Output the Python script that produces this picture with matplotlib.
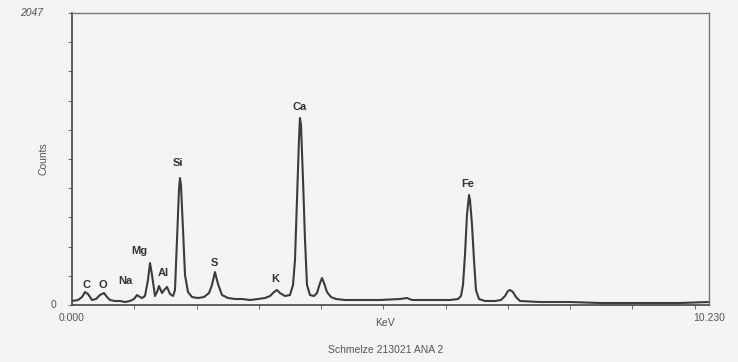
import matplotlib
matplotlib.use("Agg")
import matplotlib.pyplot as plt
import numpy as np

# spectrum: energy (keV) and counts
kev = [0.000, 0.096, 0.161, 0.209, 0.257, 0.321, 0.385, 0.450, 0.514, 0.562,
       0.610, 0.691, 0.771, 0.851, 0.931, 0.996, 1.044, 1.092, 1.124, 1.172,
       1.220, 1.253, 1.285, 1.333, 1.365, 1.397, 1.445, 1.494, 1.526, 1.574,
       1.622, 1.654, 1.686, 1.718, 1.734, 1.750, 1.783, 1.815, 1.863, 1.927,
       2.023, 2.120, 2.200, 2.248, 2.296, 2.345, 2.409, 2.505, 2.618, 2.730,
       2.859, 2.987, 3.099, 3.180, 3.244, 3.292, 3.340, 3.421, 3.501, 3.549,
       3.581, 3.613, 3.645, 3.661, 3.678, 3.710, 3.742, 3.774, 3.822, 3.886,
       3.934, 3.983, 4.015, 4.047, 4.095, 4.159, 4.240, 4.384, 4.625, 4.946,
       5.267, 5.380, 5.460, 5.749, 6.070, 6.199, 6.247, 6.279, 6.311, 6.343,
       6.376, 6.392, 6.424, 6.456, 6.488, 6.536, 6.632, 6.793, 6.889, 6.953,
       7.002, 7.034, 7.082, 7.130, 7.194, 7.516, 7.997, 8.479, 9.122, 9.765,
       10.230]
counts = [28, 35, 56, 91, 77, 35, 42, 70, 84, 56,
          35, 28, 28, 21, 28, 42, 70, 56, 49, 63,
          175, 294, 210, 63, 91, 133, 84, 112, 126, 77,
          63, 105, 456, 806, 890, 841, 526, 210, 91, 56,
          49, 56, 84, 140, 231, 147, 70, 49, 42, 42,
          35, 42, 49, 63, 91, 105, 84, 63, 70, 140,
          315, 736, 1157, 1311, 1262, 876, 456, 140, 70, 63,
          84, 154, 189, 154, 91, 56, 42, 35, 35, 35,
          42, 49, 35, 35, 35, 42, 63, 140, 350, 631,
          771, 736, 561, 315, 105, 42, 28, 28, 35, 63,
          98, 105, 91, 56, 28, 21, 21, 14, 14, 14,
          21]

# element labels: name, energy (keV), label height (counts)
elements = ["C", "O", "Na", "Mg", "Al", "Si", "S", "K", "Ca", "Fe"]
elem_kev = [0.24, 0.50, 0.85, 1.08, 1.46, 1.70, 2.28, 3.26, 3.66, 6.36]
elem_cnt = [108, 108, 135, 345, 190, 960, 260, 150, 1350, 815]

BG = "#f4f4f2"
INK = "#3c3c3c"
TXT = "#555555"

fig = plt.figure(figsize=(7.38, 3.62), dpi=100, facecolor=BG)
ax = fig.add_axes([72 / 738, 57 / 362, 637 / 738, 292 / 362], facecolor=BG)

ax.plot(kev, counts, color=INK, lw=1.5)
ax.set_xlim(0, 10.23)
ax.set_ylim(0, 2047)

for name, x, y in zip(elements, elem_kev, elem_cnt):
    ax.text(x, y, name, ha="center", va="bottom", fontsize=8,
            fontweight="bold", color="#333333", family="Liberation Sans")

# frame: darker left/bottom like the scan
for side in ["left", "bottom"]:
    ax.spines[side].set_color("#444444")
    ax.spines[side].set_linewidth(1.2)
for side in ["top", "right"]:
    ax.spines[side].set_color("#777777")
    ax.spines[side].set_linewidth(1.0)

ax.set_xticks([0, 10.23])
ax.set_xticklabels(["0.000", "10.230"], fontsize=7.5, color=TXT,
                   family="Liberation Sans")
ax.set_xticks(np.arange(1, 11), minor=True)
ax.tick_params(axis="x", which="both", direction="out", length=3,
               color="#555555", pad=6)
ax.tick_params(axis="x", which="major", length=0)

ax.set_yticks([])
ax.set_yticks(np.linspace(0, 2047, 11), minor=True)
ax.tick_params(axis="y", which="minor", direction="out", length=3,
               color="#555555")

ax.text(-0.045, 1.0, "2047", transform=ax.transAxes, ha="right", va="center",
        fontsize=7.5, color=TXT, style="italic", family="Liberation Sans")
ax.text(-0.025, 0.0, "0", transform=ax.transAxes, ha="right", va="center",
        fontsize=7.5, color=TXT, family="Liberation Sans")
ax.text(-0.045, 0.5, "Counts", transform=ax.transAxes, ha="center",
        va="center", rotation=90, fontsize=7.5, color=TXT,
        family="Liberation Sans")

fig.text(385 / 738, 1 - 323 / 362, "KeV", ha="center", va="center",
         fontsize=7.5, color=TXT, family="Liberation Sans")
fig.text(386 / 738, 1 - 350 / 362, "Schmelze 213021 ANA 2", ha="center",
         va="center", fontsize=7.5, color=TXT, family="Liberation Sans")

fig.savefig("out.png", dpi=100, facecolor=BG)
